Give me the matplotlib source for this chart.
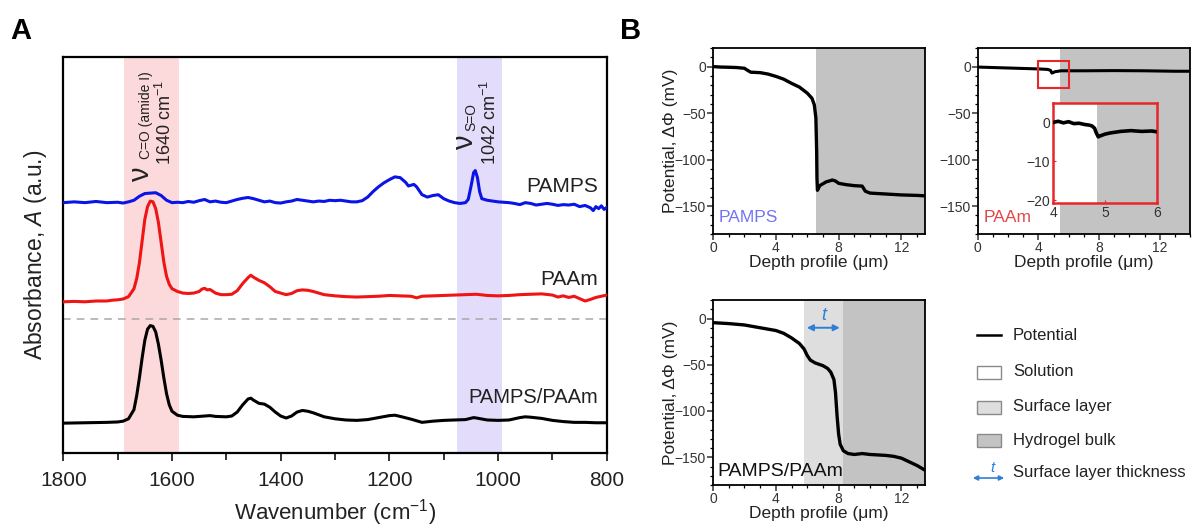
import matplotlib
matplotlib.use("Agg")
import matplotlib.pyplot as plt
from matplotlib.ticker import MultipleLocator
from matplotlib.patches import Rectangle, FancyArrowPatch
from matplotlib.lines import Line2D

plt.rcParams['font.family'] = ['Liberation Sans', 'DejaVu Sans']
plt.rcParams['mathtext.fontset'] = 'custom'
plt.rcParams['mathtext.rm'] = 'Liberation Sans'
plt.rcParams['mathtext.it'] = 'Liberation Sans:italic'

# ---------------- Panel A: FTIR spectra (offset, a.u.) ----------------
wn_pamps = [1800, 1780, 1760, 1740, 1720, 1700, 1690, 1680, 1670, 1660, 1650, 1640, 1630, 1620,
            1610, 1600, 1590, 1580, 1570, 1560, 1550, 1540, 1530, 1520, 1510, 1500, 1490, 1480,
            1470, 1460, 1450, 1440, 1430, 1420, 1410, 1400, 1390, 1380, 1370, 1360, 1350, 1340,
            1330, 1320, 1310, 1300, 1290, 1280, 1270, 1260, 1250, 1240, 1230, 1220, 1210, 1200,
            1190, 1180, 1170, 1165, 1160, 1155, 1150, 1140, 1130, 1120, 1110, 1100, 1090, 1080,
            1070, 1060, 1055, 1050, 1045, 1042, 1038, 1034, 1030, 1020, 1010, 1000, 990, 980,
            970, 960, 950, 940, 930, 920, 910, 900, 890, 880, 870, 860, 850, 840, 830, 825, 820,
            815, 810, 805, 800]
a_pamps = [0.632, 0.634, 0.632, 0.635, 0.632, 0.633, 0.631, 0.634, 0.638, 0.648, 0.655, 0.656, 0.657, 0.650,
           0.638, 0.632, 0.633, 0.632, 0.635, 0.633, 0.637, 0.640, 0.634, 0.636, 0.633, 0.632, 0.636, 0.640,
           0.643, 0.645, 0.642, 0.638, 0.634, 0.636, 0.632, 0.631, 0.634, 0.636, 0.640, 0.638, 0.636, 0.634,
           0.636, 0.635, 0.638, 0.637, 0.638, 0.636, 0.634, 0.634, 0.637, 0.646, 0.660, 0.672, 0.682, 0.690,
           0.697, 0.695, 0.683, 0.674, 0.676, 0.678, 0.672, 0.652, 0.646, 0.650, 0.652, 0.642, 0.636, 0.632,
           0.630, 0.632, 0.640, 0.672, 0.708, 0.713, 0.695, 0.660, 0.642, 0.638, 0.636, 0.634, 0.633, 0.632,
           0.630, 0.627, 0.632, 0.630, 0.626, 0.628, 0.630, 0.628, 0.625, 0.627, 0.626, 0.628, 0.622, 0.625,
           0.619, 0.612, 0.622, 0.617, 0.624, 0.615, 0.620]

wn_paam = [1800, 1780, 1760, 1740, 1720, 1710, 1700, 1690, 1680, 1670, 1665, 1660, 1655, 1650, 1645,
           1640, 1635, 1630, 1625, 1620, 1615, 1610, 1605, 1600, 1590, 1580, 1570, 1560, 1550, 1545,
           1540, 1535, 1530, 1520, 1510, 1500, 1490, 1480, 1470, 1460, 1455, 1450, 1440, 1430, 1420,
           1410, 1400, 1390, 1380, 1370, 1360, 1350, 1340, 1330, 1320, 1300, 1280, 1260, 1240, 1220,
           1200, 1180, 1160, 1150, 1140, 1120, 1100, 1080, 1060, 1040, 1020, 1000, 980, 960, 940, 920,
           900, 890, 880, 870, 860, 850, 840, 830, 820, 810, 800]
a_paam = [0.382, 0.383, 0.382, 0.384, 0.384, 0.386, 0.387, 0.389, 0.395, 0.415, 0.440, 0.480, 0.535, 0.590, 0.622,
          0.636, 0.634, 0.617, 0.582, 0.532, 0.482, 0.446, 0.426, 0.415, 0.408, 0.404, 0.403, 0.404, 0.408, 0.414,
          0.416, 0.412, 0.413, 0.404, 0.400, 0.400, 0.401, 0.410, 0.428, 0.443, 0.449, 0.444, 0.436, 0.430, 0.420,
          0.408, 0.404, 0.400, 0.403, 0.410, 0.412, 0.411, 0.408, 0.404, 0.400, 0.397, 0.395, 0.394, 0.395, 0.396,
          0.398, 0.397, 0.396, 0.392, 0.396, 0.397, 0.398, 0.399, 0.400, 0.401, 0.398, 0.397, 0.398, 0.400, 0.401, 0.402,
          0.399, 0.394, 0.397, 0.393, 0.396, 0.390, 0.384, 0.388, 0.393, 0.396, 0.399]

wn_blend = [1800, 1760, 1720, 1700, 1690, 1680, 1670, 1665, 1660, 1655, 1650, 1645, 1640, 1635, 1630,
            1625, 1620, 1615, 1610, 1605, 1600, 1590, 1580, 1560, 1540, 1530, 1520, 1500, 1490, 1480,
            1470, 1460, 1455, 1450, 1440, 1430, 1420, 1410, 1400, 1390, 1380, 1370, 1360, 1350, 1340,
            1330, 1320, 1300, 1280, 1260, 1240, 1220, 1200, 1190, 1180, 1160, 1140, 1120, 1100, 1080,
            1060, 1045, 1040, 1020, 1000, 980, 960, 950, 940, 920, 900, 880, 860, 840, 820, 800]
a_blend = [0.076, 0.077, 0.078, 0.079, 0.081, 0.087, 0.110, 0.145, 0.190, 0.240, 0.285, 0.313, 0.322, 0.320, 0.306,
           0.275, 0.235, 0.190, 0.150, 0.122, 0.106, 0.096, 0.093, 0.092, 0.094, 0.095, 0.093, 0.092, 0.094, 0.104,
           0.122, 0.137, 0.139, 0.134, 0.126, 0.124, 0.116, 0.104, 0.094, 0.089, 0.094, 0.104, 0.108, 0.106, 0.102,
           0.097, 0.092, 0.087, 0.084, 0.083, 0.085, 0.090, 0.095, 0.096, 0.093, 0.086, 0.078, 0.081, 0.083, 0.084,
           0.085, 0.090, 0.089, 0.084, 0.083, 0.084, 0.090, 0.092, 0.091, 0.088, 0.083, 0.080, 0.078, 0.078, 0.077, 0.077]

amide_band = (1688, 1587)
so_band = (1076, 992)
divider_level = 0.338

# ---------------- Panel B: KPFM potential depth profiles ----------------
depth_pamps = [0, 0.5, 1, 1.5, 2, 2.2, 2.4, 3, 3.5, 4, 4.5, 5, 5.5, 6, 6.3, 6.45, 6.55, 6.6, 6.62,
               6.65, 6.8, 7.0, 7.2, 7.6, 7.8, 8.0, 8.5, 9.0, 9.5, 9.7, 10, 11, 12, 13, 13.5]
pot_pamps = [0, -0.5, -0.7, -1, -1.8, -4, -6, -6.5, -8, -10.5, -13.5, -18, -22, -28.5, -34, -41, -55, -90, -120,
             -133, -128, -126, -124, -122, -123, -125.5, -127, -128, -128.5, -134, -136, -137, -138, -138.5, -139]

depth_paam = [0, 1, 2, 3, 4, 4.6, 4.8, 4.9, 5.1, 5.5, 7, 9, 11, 13, 14]
pot_paam = [-0.5, -1, -1.5, -2, -2.5, -3, -4, -7, -5.5, -4.5, -4.5, -4.3, -4.5, -5, -5]

depth_paam_zoom = [4.0, 4.1, 4.2, 4.3, 4.4, 4.5, 4.6, 4.7, 4.75, 4.8, 4.83, 4.87, 4.9, 5.0, 5.1, 5.3, 5.5,
                   5.7, 5.9, 6.0]
pot_paam_zoom = [0, 0.3, -0.1, 0.2, -0.3, -0.2, -0.5, -0.7, -0.9, -1.5, -2.6, -3.7, -3.5, -3.0, -2.7, -2.3,
                 -2.1, -2.3, -2.2, -2.4]

depth_blend = [0, 0.5, 1, 2, 3, 4, 4.5, 5, 5.5, 5.8, 6.0, 6.2, 6.5, 7.0, 7.3, 7.5, 7.7, 7.8, 7.9, 8.0,
               8.1, 8.3, 8.6, 9.0, 9.5, 10, 11, 11.5, 12, 12.5, 13, 13.5]
pot_blend = [-4.5, -5, -5.5, -7, -10, -13, -16, -21, -27, -33, -40, -45, -48, -51, -54, -58, -66, -80, -105, -125,
             -136, -143, -146, -147, -146, -147, -148, -149, -151, -155, -159, -164]

bulk_start = {'PAMPS': 6.55, 'PAAm': 5.45, 'PAMPS/PAAm': 8.25}
surface_start = 5.8

bulk_col = '#c3c3c3'
surf_col = '#dedede'
arrow_col = '#2f7fd8'
inset_red = '#e8262a'

W, H = 1195, 529
fig = plt.figure(figsize=(W / 100, H / 100), dpi=100)


def px_axes(left, top, right, bottom):
    return fig.add_axes([left / W, 1 - bottom / H, (right - left) / W, (bottom - top) / H])


# ---- panel A ----
ax = px_axes(63.3, 56.7, 606.8, 453.3)
ax.axvspan(*amide_band, color='#fcd9da', lw=0, zorder=0)
ax.axvspan(*so_band, color='#e4dcfb', lw=0, zorder=0)
ax.axhline(divider_level, color='#a8a8a8', lw=1.1, ls=(0, (5, 4)), zorder=1)
ax.plot(wn_pamps, a_pamps, color='#0a14e6', lw=2.2, zorder=3)
ax.plot(wn_paam, a_paam, color='#f01414', lw=2.2, zorder=3)
ax.plot(wn_blend, a_blend, color='black', lw=2.2, zorder=3)
ax.set_xlim(1800, 800)
ax.set_ylim(0, 1)
ax.set_yticks([])
ax.xaxis.set_major_locator(MultipleLocator(200))
ax.xaxis.set_minor_locator(MultipleLocator(100))
ax.tick_params(axis='x', which='both', direction='out', length=6, width=1.3, labelsize=15,
               colors='#222222', pad=7)
ax.tick_params(axis='x', which='minor', length=5)
for s in ax.spines.values():
    s.set_linewidth(1.6)
ax.set_xlabel('Wavenumber (cm$^{-1}$)', fontsize=16, color='#222222', labelpad=5)
ax.set_ylabel('Absorbance, $\\mathit{A}$ (a.u.)', fontsize=16.5, color='#222222', labelpad=10)

ax.text(816, 0.672, 'PAMPS', ha='right', va='center', fontsize=15, color='#222222')
ax.text(816, 0.437, 'PAAm', ha='right', va='center', fontsize=15, color='#222222')
ax.text(816, 0.140, 'PAMPS/PAAm', ha='right', va='center', fontsize=14.5, color='#222222')

ax.text(1657, 0.684, 'ν', rotation=90, ha='center', va='bottom', fontsize=21, color='#222222')
ax.text(1648, 0.742, 'C=O (amide I)', rotation=90, ha='center', va='bottom', fontsize=10, color='#222222')
ax.text(1613, 0.727, '1640 cm$^{-1}$', rotation=90, ha='center', va='bottom', fontsize=13, color='#222222')
ax.text(1061, 0.765, 'ν', rotation=90, ha='center', va='bottom', fontsize=21, color='#222222')
ax.text(1050, 0.812, 'S=O', rotation=90, ha='center', va='bottom', fontsize=10, color='#222222')
ax.text(1015, 0.727, '1042 cm$^{-1}$', rotation=90, ha='center', va='bottom', fontsize=13, color='#222222')

fig.text(10 / W, 1 - 31 / H, 'A', fontsize=21, fontweight='bold', va='center', ha='left')
fig.text(620 / W, 1 - 31 / H, 'B', fontsize=21, fontweight='bold', va='center', ha='left')


# ---- panel B ----
def style_b(a, xmax, ylabel=True):
    a.set_xlim(0, xmax)
    a.set_ylim(-180, 20)
    a.set_xticks([0, 4, 8, 12])
    a.set_yticks([0, -50, -100, -150])
    a.xaxis.set_minor_locator(MultipleLocator(1))
    a.yaxis.set_minor_locator(MultipleLocator(10))
    a.tick_params(which='major', direction='out', length=4, width=1.1, labelsize=10,
                  colors='#333333', pad=1)
    a.tick_params(which='minor', direction='out', length=2.2, width=0.9)
    for s in a.spines.values():
        s.set_linewidth(1.3)
    a.set_xlabel('Depth profile (μm)', fontsize=12.5, color='#222222', labelpad=0)
    if ylabel:
        a.set_ylabel('Potential, ΔΦ (mV)', fontsize=12.5, color='#222222', labelpad=-2)


b1 = px_axes(713, 48, 925, 234)
b1.axvspan(bulk_start['PAMPS'], 20, color=bulk_col, lw=0, zorder=0)
b1.plot(depth_pamps, pot_pamps, color='black', lw=2.4, zorder=3)
style_b(b1, 13.5)
b1.text(0.35, -162, 'PAMPS', color='#7474f2', fontsize=12.5, va='center', ha='left')

b2 = px_axes(977.7, 48, 1190, 234)
b2.axvspan(bulk_start['PAAm'], 20, color=bulk_col, lw=0, zorder=0)
b2.plot(depth_paam, pot_paam, color='black', lw=2.2, zorder=3)
b2.add_patch(Rectangle((4, -22.5), 2, 28, fill=False, edgecolor=inset_red, lw=1.5, zorder=4))
style_b(b2, 14, ylabel=False)
b2.text(0.4, -162, 'PAAm', color='#e04848', fontsize=12.5, va='center', ha='left')

ins = px_axes(1053, 103, 1157, 203)
ins.axvspan(4.85, 6.5, color=bulk_col, lw=0, zorder=0)
ins.plot(depth_paam_zoom, pot_paam_zoom, color='black', lw=2.6, zorder=3)
ins.set_xlim(4, 6)
ins.set_ylim(-20.7, 5)
ins.set_xticks([4, 5, 6])
ins.set_yticks([0, -10, -20])
ins.tick_params(direction='in', length=2, width=0.8, labelsize=10, colors='#333333', pad=2)
ins.tick_params(axis='x', colors=inset_red, labelcolor='#333333')
ins.tick_params(axis='y', colors=inset_red, labelcolor='#333333')
for s in ins.spines.values():
    s.set_color(inset_red)
    s.set_linewidth(1.8)

b3 = px_axes(713, 300, 925, 485)
b3.axvspan(surface_start, bulk_start['PAMPS/PAAm'], color=surf_col, lw=0, zorder=0)
b3.axvspan(bulk_start['PAMPS/PAAm'], 20, color=bulk_col, lw=0, zorder=0)
b3.plot(depth_blend, pot_blend, color='black', lw=2.4, zorder=3)
b3.add_patch(FancyArrowPatch((surface_start, -10), (bulk_start['PAMPS/PAAm'], -10),
                             arrowstyle='<|-|>', mutation_scale=9, color=arrow_col, lw=1.4, zorder=4))
b3.text((surface_start + bulk_start['PAMPS/PAAm']) / 2, 3, 't', style='italic', color=arrow_col,
        fontsize=13, ha='center', va='center')
style_b(b3, 13.5)
b3.text(0.3, -165, 'PAMPS/PAAm', color='#111111', fontsize=14, va='center', ha='left')

# ---- legend for panel B ----
lg = fig.add_axes([0, 0, 1, 1], facecolor='none')
lg.set_xlim(0, W)
lg.set_ylim(H, 0)
lg.axis('off')
lg.add_line(Line2D([977, 1001], [335, 335], color='black', lw=1.8))
for yy, fc in [(372, 'white'), (407, surf_col), (440, bulk_col)]:
    lg.add_patch(Rectangle((977, yy - 6.5), 24, 13, facecolor=fc, edgecolor='#8a8a8a', lw=1))
lg.add_patch(FancyArrowPatch((970, 478), (1007, 478), arrowstyle='<|-|>', mutation_scale=7,
                             color=arrow_col, lw=1.2))
lg.text(992, 468, 't', style='italic', color=arrow_col, fontsize=11, ha='center', va='center')
for yy, label in [(335, 'Potential'), (372, 'Solution'), (407, 'Surface layer'),
                  (440, 'Hydrogel bulk'), (473, 'Surface layer thickness')]:
    lg.text(1013, yy, label, fontsize=12, color='#222222', va='center', ha='left')

fig.savefig('out.png', dpi=100)
